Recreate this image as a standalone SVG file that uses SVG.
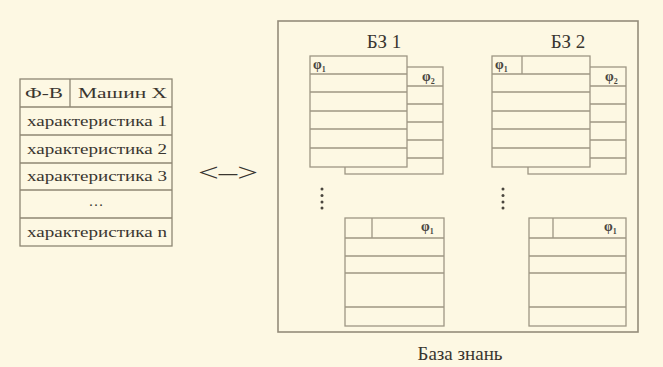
<svg xmlns="http://www.w3.org/2000/svg" width="663" height="367" viewBox="0 0 663 367">
<style>
.bg{fill:#fdf8e3}
.ln{fill:none;stroke:#9e9684;stroke-width:1.3}
.card{fill:#fdf8e3;stroke:#9e9684;stroke-width:1.3}
.t{font-family:"Liberation Serif","Times New Roman",serif;fill:#3a3630}
.tb{font-size:15px}
.hd{font-size:19px}
.ph{font-size:14px;font-weight:bold;fill:#4a463e}
.sb{font-size:8px}
.dot{fill:#4a463e}
</style>
<rect class="bg" x="0" y="0" width="663" height="367"/>

<g id="table">
<rect class="ln" x="20" y="79" width="152" height="167" style="stroke:#8e8674"/>
<path class="ln" style="stroke:#8e8674" d="M20 107H172M20 135H172M20 163H172M20 190H172M20 218H172M70 79V107"/>
<text class="t tb" x="25" y="98" textLength="38" lengthAdjust="spacingAndGlyphs">Ф-В</text>
<text class="t tb" x="78" y="98" textLength="89" lengthAdjust="spacingAndGlyphs">Машин Х</text>
<text class="t tb" x="27" y="126" textLength="140" lengthAdjust="spacingAndGlyphs">характеристика 1</text>
<text class="t tb" x="27" y="154" textLength="140" lengthAdjust="spacingAndGlyphs">характеристика 2</text>
<text class="t tb" x="27" y="181" textLength="140" lengthAdjust="spacingAndGlyphs">характеристика 3</text>
<text class="t tb" x="96" y="206" text-anchor="middle">…</text>
<text class="t tb" x="27" y="237" textLength="140" lengthAdjust="spacingAndGlyphs">характеристика n</text>
</g>

<g id="arrow">
<text class="t" x="198" y="181" font-size="26" textLength="60" lengthAdjust="spacingAndGlyphs">&lt;–&gt;</text>
</g>

<g id="kb">
<rect class="ln" x="278" y="21" width="360" height="311" style="stroke:#948c7a;stroke-width:1.6"/>
<text class="t hd" x="384" y="48" text-anchor="middle">БЗ 1</text>
<text class="t hd" x="568" y="48" text-anchor="middle">БЗ 2</text>
<text class="t" x="460" y="360" font-size="18" text-anchor="middle" textLength="85" lengthAdjust="spacingAndGlyphs">База знань</text>
</g>

<g id="bz1-back">
<rect class="card" x="345" y="67" width="98" height="107"/>
<path class="ln" d="M345 86H443M345 104H443M345 122H443M345 140H443M345 158H443"/>
<text class="t ph" x="422" y="81">φ<tspan class="sb" dy="3">2</tspan></text>
</g>
<g id="bz1-front">
<rect class="card" x="310" y="56" width="97" height="111"/>
<path class="ln" d="M310 74H407M310 92H407M310 111H407M310 129H407M310 148H407"/>
<text class="t ph" x="313" y="69">φ<tspan class="sb" dy="3">1</tspan></text>
</g>
<g id="bz1-dots">
<circle class="dot" cx="322" cy="189" r="1.5"/><circle class="dot" cx="322" cy="195.5" r="1.5"/><circle class="dot" cx="322" cy="202" r="1.5"/><circle class="dot" cx="322" cy="208" r="1.5"/>
</g>
<g id="bz1-last">
<rect class="card" x="345" y="218" width="99" height="108"/>
<path class="ln" d="M345 238H444M345 256H444M345 273H444M345 307H444M372 218V238"/>
<text class="t ph" x="421" y="231">φ<tspan class="sb" dy="3">1</tspan></text>
</g>

<g id="bz2-back">
<rect class="card" x="528" y="67" width="98" height="107"/>
<path class="ln" d="M528 86H626M528 104H626M528 122H626M528 140H626M528 158H626"/>
<text class="t ph" x="605" y="81">φ<tspan class="sb" dy="3">2</tspan></text>
</g>
<g id="bz2-front">
<rect class="card" x="492" y="56" width="98" height="111"/>
<path class="ln" d="M492 74H590M492 92H590M492 111H590M492 129H590M492 148H590M522 56V74"/>
<text class="t ph" x="495" y="69">φ<tspan class="sb" dy="3">1</tspan></text>
</g>
<g id="bz2-dots">
<circle class="dot" cx="503" cy="189" r="1.5"/><circle class="dot" cx="503" cy="195.5" r="1.5"/><circle class="dot" cx="503" cy="202" r="1.5"/><circle class="dot" cx="503" cy="208" r="1.5"/>
</g>
<g id="bz2-last">
<rect class="card" x="529" y="218" width="97" height="108"/>
<path class="ln" d="M529 238H626M529 256H626M529 273H626M529 307H626M553 218V238"/>
<text class="t ph" x="604" y="231">φ<tspan class="sb" dy="3">1</tspan></text>
</g>

<g id="connectors"></g>
</svg>
